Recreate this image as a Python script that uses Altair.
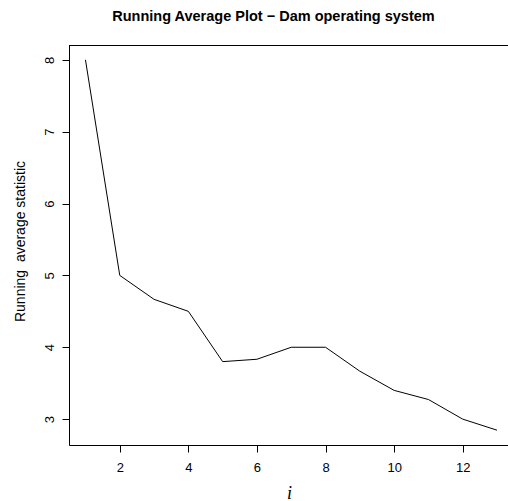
import altair as alt
import pandas as pd

# Running average of the dam operating statistic over successive observations
obs_index = [1, 2, 3, 4, 5, 6, 7, 8, 9, 10, 11, 12, 13]
running_avg = [8.0, 5.0, 4.667, 4.5, 3.8, 3.833, 4.0, 4.0, 3.667, 3.4, 3.273, 3.0, 2.846]

x_ticks = [2, 4, 6, 8, 10, 12]
y_ticks = [3, 4, 5, 6, 7, 8]

df = pd.DataFrame({"i": obs_index, "avg": running_avg})

W, H = 439, 400
SANS = "Liberation Sans"

x_scale = alt.Scale(domain=[0.52, 13.32], nice=False, zero=False)
y_scale = alt.Scale(domain=[2.64, 8.206], nice=False, zero=False)

line = alt.Chart(df).mark_line(color="black", strokeWidth=1, clip=True).encode(
    x=alt.X(
        "i:Q",
        scale=x_scale,
        axis=alt.Axis(
            values=x_ticks,
            grid=False,
            domain=True,
            domainColor="black",
            domainWidth=1,
            tickColor="black",
            tickSize=7,
            tickWidth=1,
            labelFont=SANS,
            labelFontSize=13,
            labelColor="black",
            labelPadding=9,
            labelBaseline="top",
            title="i",
            titleFont="Liberation Serif",
            titleFontStyle="italic",
            titleFontWeight="normal",
            titleFontSize=18,
            titleColor="black",
            titleX=220,
            titleY=53,
            titleBaseline="alphabetic",
            titleAlign="center",
        ),
    ),
    y=alt.Y(
        "avg:Q",
        scale=y_scale,
        axis=alt.Axis(
            values=y_ticks,
            grid=False,
            domain=True,
            domainColor="black",
            domainWidth=1,
            tickColor="black",
            tickSize=7,
            tickWidth=1,
            labelFont=SANS,
            labelFontSize=13,
            labelColor="black",
            labelAngle=270,
            labelAlign="center",
            labelBaseline="alphabetic",
            labelPadding=9,
            title="Running\u00a0 average statistic",
            titleFont=SANS,
            titleFontSize=14,
            titleFontWeight="normal",
            titleColor="black",
            titleAngle=270,
            titleAlign="center",
            titleBaseline="middle",
            titleX=-49,
            titleY=196,
        ),
    ),
)

# Top edge of the plot frame
top_edge = alt.Chart(df).mark_rule(color="black", strokeWidth=1).encode(
    x=alt.value(0), x2=alt.value(W), y=alt.value(0.5)
)

chart = (
    alt.layer(top_edge, line)
    .properties(
        width=W,
        height=H,
        padding={"left": 69, "top": 45, "right": 0, "bottom": 56},
        autosize=alt.AutoSizeParams(type="none"),
        title=alt.TitleParams(
            "Running Average Plot \u2212 Dam operating system",
            font=SANS,
            fontSize=14.5,
            fontWeight="bold",
            color="black",
            anchor="middle",
            frame="group",
            dx=-15,
            offset=10,
            baseline="alphabetic",
        ),
    )
    .configure_view(stroke=None)
    .configure(background="white")
)

chart.save("out.html", embed_options={"renderer": "svg", "actions": False})
